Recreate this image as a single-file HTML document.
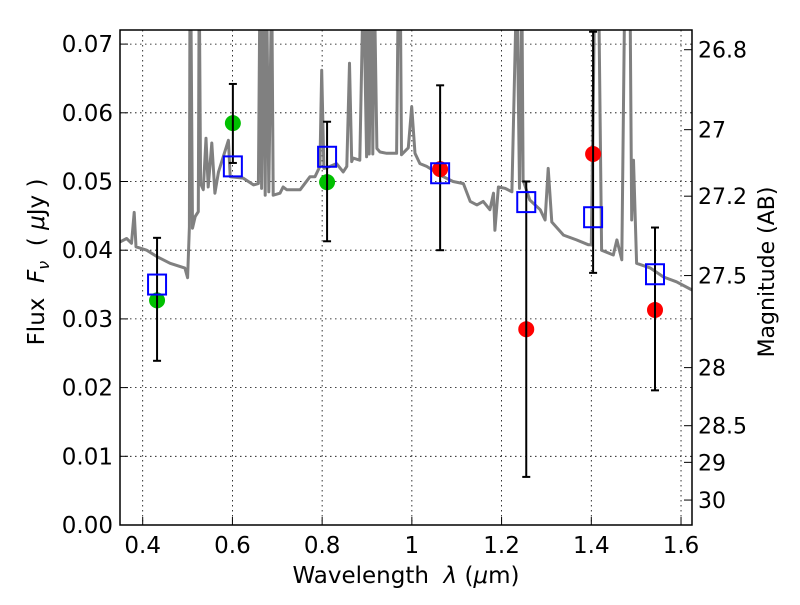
<!DOCTYPE html>
<html><head><meta charset="utf-8"><style>
body{margin:0;background:#fff}
svg text{font-family:"DejaVu Sans","Liberation Sans",sans-serif;fill:#000}
</style></head><body>
<svg id="chart" width="800" height="600" xmlns="http://www.w3.org/2000/svg">
<rect width="800" height="600" fill="#fff"/>
<defs><clipPath id="clip"><rect x="120" y="30" width="572" height="495"/></clipPath></defs>
<g id="grid"></g>
<g id="spec" clip-path="url(#clip)"></g>
<g id="marks"></g>
<rect x="120" y="30" width="572" height="495" fill="none" stroke="#000" stroke-width="1.5"/>
<g id="axes"></g>
<text x="406" y="583" font-size="23" text-anchor="middle">Wavelength&#160;&#160;<tspan font-style="italic">λ</tspan> (<tspan font-style="italic">μ</tspan>m)</text>
<text transform="translate(44,262) rotate(-90)" font-size="23" text-anchor="middle">Flux&#160;&#160;<tspan font-style="italic">F</tspan><tspan font-style="italic" font-size="16" dy="5">ν</tspan><tspan dy="-5">&#160;&#160;(&#160;</tspan><tspan font-style="italic">μ</tspan>Jy )</text>
<text transform="translate(774,272) rotate(-90)" font-size="22" text-anchor="middle">Magnitude (AB)</text>
</svg>
<script>
const specLam=[0.349,0.364,0.375,0.381,0.385,0.409,0.431,0.461,0.494,0.500,0.504,0.5055,0.507,0.511,0.517,0.524,0.526,0.529,0.535,0.541,0.546,0.554,0.561,0.569,0.591,0.595,0.624,0.647,0.658,0.6615,0.665,0.669,0.673,0.676,0.681,0.6875,0.691,0.706,0.713,0.721,0.751,0.773,0.784,0.795,0.799,0.804,0.8175,0.832,0.847,0.855,0.861,0.866,0.869,0.884,0.892,0.899,0.9016,0.905,0.910,0.913,0.916,0.922,0.929,0.944,0.966,0.970,0.974,0.977,0.992,0.9996,1.007,1.018,1.033,1.070,1.092,1.115,1.130,1.145,1.159,1.174,1.182,1.185,1.193,1.208,1.223,1.234,1.240,1.245,1.248,1.263,1.286,1.297,1.304,1.312,1.338,1.367,1.393,1.400,1.408,1.416,1.423,1.449,1.457,1.468,1.475,1.486,1.490,1.494,1.501,1.532,1.561,1.590,1.6245];
const specFlux=[0.0412,0.0417,0.0410,0.0455,0.0405,0.0400,0.0391,0.0381,0.0374,0.0360,0.0434,0.080,0.080,0.0432,0.0449,0.0456,0.080,0.0497,0.0488,0.0563,0.0492,0.0556,0.0483,0.0514,0.0560,0.0507,0.0505,0.0495,0.0497,0.080,0.0490,0.080,0.0480,0.080,0.0485,0.080,0.0480,0.0483,0.0492,0.0488,0.0488,0.0507,0.0507,0.0522,0.0662,0.0519,0.0522,0.0526,0.0514,0.0522,0.0672,0.0529,0.0534,0.0531,0.080,0.0536,0.080,0.054,0.080,0.054,0.080,0.0548,0.0543,0.0541,0.0541,0.080,0.080,0.0539,0.0549,0.0609,0.0541,0.0526,0.0522,0.0507,0.0500,0.0497,0.0471,0.0466,0.0471,0.0459,0.0483,0.0429,0.0492,0.0490,0.0485,0.080,0.049,0.080,0.0502,0.0473,0.0459,0.0444,0.0519,0.0441,0.0422,0.0415,0.0408,0.0408,0.080,0.080,0.0400,0.0393,0.0415,0.0386,0.080,0.080,0.0444,0.0531,0.0381,0.0374,0.0361,0.0354,0.0342];
const bandLam=[0.432,0.601,0.811,1.063,1.255,1.404,1.542];
const modelFlux=[0.0350,0.0522,0.0536,0.0512,0.0470,0.0448,0.0365];
const errLow=[0.0239,0.0527,0.0413,0.0400,0.0070,0.0367,0.0196];
const errHigh=[0.0418,0.0642,0.0587,0.0640,0.0500,0.0718,0.0433];
const greenLam=[0.432,0.601,0.811];
const greenFlux=[0.0327,0.0585,0.0499];
const redLam=[1.063,1.255,1.404,1.542];
const redFlux=[0.0518,0.0285,0.0540,0.0313];
const xTicks=[0.4,0.6,0.8,1.0,1.2,1.4,1.6];
const xTickLabels=["0.4","0.6","0.8","1","1.2","1.4","1.6"];
const yTicks=[0,0.01,0.02,0.03,0.04,0.05,0.06,0.07];
const yTickLabels=["0.00","0.01","0.02","0.03","0.04","0.05","0.06","0.07"];
const magTicks=[26.8,27,27.2,27.5,28,28.5,29,30];
const magTickLabels=["26.8","27","27.2","27.5","28","28.5","29","30"];

const NS="http://www.w3.org/2000/svg";
const X=l=>142.7+(l-0.4)*448.6;
const Y=f=>525-f*6870;
const magToFlux=m=>Math.pow(10,(23.9-m)/2.5);
function mk(tag,attrs,parent){const e=document.createElementNS(NS,tag);for(const k in attrs)e.setAttribute(k,attrs[k]);parent.appendChild(e);return e;}
const grid=document.getElementById('grid'),axes=document.getElementById('axes'),spec=document.getElementById('spec'),marks=document.getElementById('marks');
xTicks.forEach((t,i)=>{
  const gl=mk('line',{x1:X(t),x2:X(t),y1:30,y2:525,stroke:'#000','stroke-width':0.8,'stroke-dasharray':'1.5,3.5'},grid);
  
  
  const tk=mk('line',{x1:X(t),x2:X(t),y1:525,y2:517,stroke:'#000','stroke-width':1},axes);
  
  
  const tx=mk('text',{x:X(t),y:553,'font-size':23,'text-anchor':'middle'},axes);
  tx.textContent=xTickLabels[i];
  
  
});
yTicks.forEach((t,i)=>{
  const gl=mk('line',{x1:120,x2:692,y1:Y(t),y2:Y(t),stroke:'#000','stroke-width':0.8,'stroke-dasharray':'1.5,3.5'},grid);
  
  
  const tk=mk('line',{x1:120,x2:128,y1:Y(t),y2:Y(t),stroke:'#000','stroke-width':1},axes);
  
  
  const tx=mk('text',{x:113,y:Y(t)+8,'font-size':23,'text-anchor':'end'},axes);
  tx.textContent=yTickLabels[i];
  
  
});
magTicks.forEach((m,i)=>{
  const y=Y(magToFlux(m));
  const tk=mk('line',{x1:684,x2:692,y1:y,y2:y,stroke:'#000','stroke-width':1},axes);
  
  
  const tx=mk('text',{x:698,y:y+8,'font-size':22,'text-anchor':'start'},axes);
  tx.textContent=magTickLabels[i];
  
  
});
const pl=mk('polyline',{points:specLam.map((l,i)=>X(l).toFixed(1)+','+Y(specFlux[i]).toFixed(1)).join(' '),fill:'none',stroke:'#808080','stroke-width':3,'stroke-linejoin':'round'},spec);


greenLam.forEach((l,i)=>{
  const c=mk('circle',{cx:X(l),cy:Y(greenFlux[i]),r:8,fill:'#00c000'},marks);
  
  
});
redLam.forEach((l,i)=>{
  const c=mk('circle',{cx:X(l),cy:Y(redFlux[i]),r:8,fill:'#ff0000'},marks);
  
  
});
bandLam.forEach((l,i)=>{
  const x=X(l),y1=Y(errLow[i]),y2=Y(errHigh[i]);
  const g=mk('g',{stroke:'#000','stroke-width':2},marks);
  
  
  mk('line',{x1:x,x2:x,y1:y1,y2:y2},g);
  mk('line',{x1:x-4,x2:x+4,y1:y1,y2:y1},g);
  mk('line',{x1:x-4,x2:x+4,y1:y2,y2:y2},g);
  const s=mk('rect',{x:x-9,y:Y(modelFlux[i])-10,width:18,height:20,fill:'none',stroke:'#0000ff','stroke-width':2},marks);
  
  
});
</script>
</body></html>
